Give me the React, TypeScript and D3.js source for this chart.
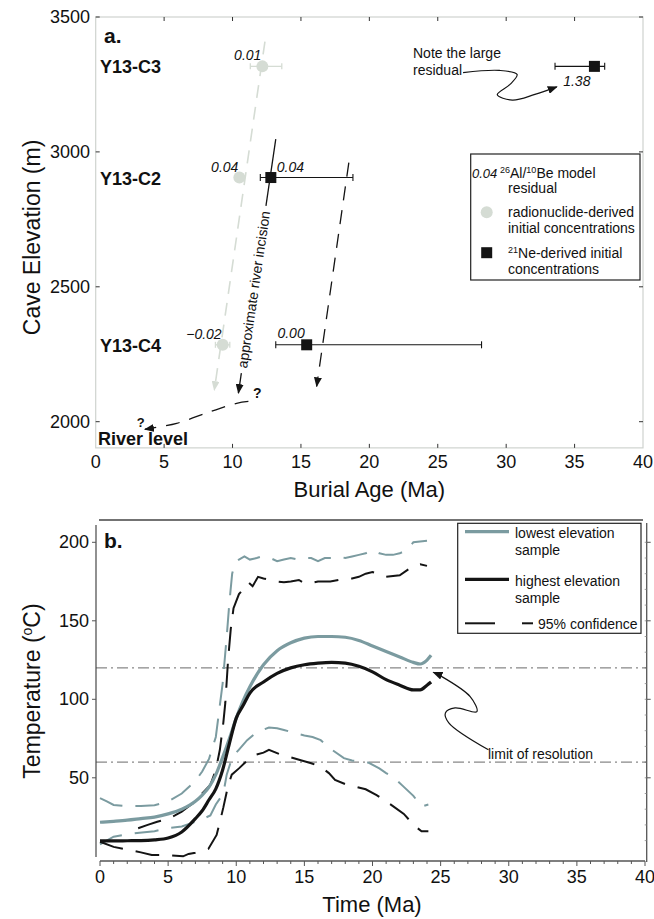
import React from "react";
import * as d3 from "d3";

const W = 654;
const H = 919;
const FONT = "'Liberation Sans', Arial, Helvetica, sans-serif";
const TEAL = "#7b9ba0";
const PALE = "#d5dcd4";
const INK = "#141414";

// ---- panel a: burial ages ----
const caves = ["Y13-C3", "Y13-C2", "Y13-C4"];
const caveElev = [3317, 2905, 2285];
const radAge = [12.18, 10.5, 9.28];
const radLo = [11.3, 10.25, 8.75];
const radHi = [13.6, 10.75, 9.8];
const radResidual = ["0.01", "0.04", "\u22120.02"];
const neAge = [36.45, 12.8, 15.42];
const neLo = [33.57, 12.03, 13.16];
const neHi = [37.2, 18.8, 28.2];
const neResidual = ["1.38", "0.04", "0.00"];
const ageTicks = [0, 5, 10, 15, 20, 25, 30, 35, 40];
const elevTicks = [2000, 2500, 3000, 3500];

// guide lines (age, elevation)
const paleGuide: [number, number][] = [[12.37, 3409], [8.67, 2117]];
const incision: [number, number][] = [[13.16, 3047], [10.43, 2106]];
const neGuide: [number, number][] = [[18.5, 2960], [16.15, 2131]];
const riverGuide: [number, number][] = [[11.16, 2075], [10.3, 2068], [8.36, 2037], [5.92, 1994], [3.6, 1972]];
const noteCurve: [number, number][] = [[26.85, 3294], [29.5, 3302], [30.8, 3287], [30.3, 3251], [29.35, 3212], [30.45, 3192], [32.1, 3213], [33.7, 3241]];

// ---- panel b: thermal histories ----
const timeTicks = [0, 5, 10, 15, 20, 25, 30, 35, 40];
const tempTicks = [50, 100, 150, 200];
const resolutionLimits = [60, 120];

const lowestT = [0, 1, 2, 3, 4, 5, 6, 7, 7.5, 8, 8.5, 9, 9.5, 10, 10.5, 11, 12, 13, 14, 15, 16, 17, 18, 19, 20, 21, 22, 23, 23.5, 24, 24.3];
const lowestV = [21.7, 22.3, 23, 24, 25, 27, 30, 35, 39, 44, 52, 63, 75, 88, 99, 108, 122, 131, 136, 139, 140, 140, 139.5, 137.5, 134, 130.5, 127, 123.5, 122.5, 125, 128];
const highestT = [0, 1, 2, 3, 4, 5, 6, 7, 7.5, 8, 8.5, 9, 9.5, 10, 10.5, 11, 12, 13, 14, 15, 16, 17, 18, 19, 20, 21, 22, 23, 23.5, 24, 24.3];
const highestV = [9.8, 9.8, 9.9, 10, 10.5, 11.7, 15.5, 24, 29, 36, 43, 55, 72, 88, 96, 104, 111, 116.5, 120, 122, 123, 123.5, 123, 121, 117.5, 112.5, 109, 106, 106, 109, 111];

const lowUpT = [0, 0.5, 1, 2, 3, 4, 5, 6, 6.5, 7, 7.5, 8, 8.5, 9, 9.3, 9.5, 9.7, 9.9, 10.2, 10.6, 11, 11.5, 11.9, 12.5, 13, 13.5, 14, 14.5, 15, 15.5, 16, 16.5, 17, 17.5, 18, 18.5, 19, 19.5, 20, 20.5, 21, 21.5, 22, 22.5, 23, 24];
const lowUpV = [37, 35, 32.7, 32, 32, 32.5, 35, 40, 44, 48, 54, 62, 76, 110, 140, 162, 180, 187, 189, 191, 189, 190, 191, 190, 188, 189, 190, 189, 190, 190, 188, 190, 190, 191, 190, 191, 192, 193, 195, 193, 192, 192, 193, 195, 200, 201];
const highUpT = [2.8, 3.5, 4.2, 4.9, 5.5, 6, 6.5, 7, 7.5, 8.1, 8.5, 8.8, 9.05, 9.2, 9.4, 9.6, 9.8, 10.2, 10.6, 10.9, 11.2, 11.6, 12, 12.5, 13, 13.5, 14, 14.6, 15, 15.5, 16, 16.9, 17.5, 18, 18.5, 19, 19.5, 20, 20.5, 21, 22, 23, 23.5, 24];
const highUpV = [17.9, 20, 22, 23.6, 26, 28.5, 31.7, 35, 40, 45.5, 55, 68, 85, 98, 125, 145, 158, 167, 171, 174.5, 172, 178, 177, 176, 175, 174.5, 175, 176, 174, 174, 175, 175, 176, 177, 177, 178, 180, 181, 180, 178, 179, 185, 186, 185];
const lowLoT = [0, 1, 2, 2.9, 4, 5, 6, 7, 7.6, 8.1, 8.5, 9.05, 9.3, 9.7, 10.2, 10.8, 11.5, 12.4, 13, 13.5, 14.3, 15, 15.6, 16.2, 17, 17.9, 18.5, 19, 19.7, 20.5, 21, 21.5, 22.2, 23, 23.6, 24.1];
const lowLoV = [7.6, 12.5, 14, 15, 16, 18, 19, 22, 24, 26, 33, 40, 52, 63, 68, 74, 79, 82, 81.5, 80.5, 78.5, 77, 76, 74, 68, 62.5, 61, 60.5, 59.7, 56, 53, 50.8, 45, 38.5, 31.7, 33];
const highLoT = [0, 1, 2.2, 3, 3.8, 5, 6.1, 6.5, 7, 7.5, 7.95, 8.56, 8.8, 9.05, 9.4, 9.67, 10.2, 10.8, 11.4, 12, 12.4, 13.3, 14, 14.8, 15.5, 16.2, 16.8, 17.25, 18, 18.7, 19.5, 20.3, 21, 21.5, 22.3, 23.1, 23.6, 24.1];
const highLoV = [9.3, 6, 4, 2.5, 0.8, 0.8, 0, 1.5, 2.3, 3.5, 4.7, 13.6, 22, 31, 45, 52, 56, 61, 64.6, 66, 67.8, 64.6, 63, 61, 59.3, 57, 53, 48.7, 46, 44.5, 42.7, 39, 35, 32, 27, 19.3, 16, 16];

const zip = (a: number[], b: number[]) => a.map((v, i) => [v, b[i]] as [number, number]);

export default function App() {
  const xA = d3.scaleLinear().domain([0, 40]).range([95.7, 643]);
  const yA = d3.scaleLinear().domain([2000, 3500]).range([421.7, 17]);
  const xB = d3.scaleLinear().domain([0, 40]).range([100, 645]);
  const yB = d3.scaleLinear().domain([0, 200]).range([856.3, 542.3]);

  const lineA = d3.line<[number, number]>().x((d) => xA(d[0])).y((d) => yA(d[1]));
  const smoothA = d3.line<[number, number]>().x((d) => xA(d[0])).y((d) => yA(d[1])).curve(d3.curveCatmullRom);
  const lineB = d3.line<[number, number]>().x((d) => xB(d[0])).y((d) => yB(d[1]));
  const smoothB = d3.line<[number, number]>().x((d) => xB(d[0])).y((d) => yB(d[1])).curve(d3.curveMonotoneX);
  const curlyB = d3.line<[number, number]>().x((d) => xB(d[0])).y((d) => yB(d[1])).curve(d3.curveCatmullRom);

  const aTop = yA(3500);
  const aBot = yA(1903);
  const aLeft = xA(0);
  const aRight = xA(40);

  // split the incision line to leave room for its label
  const incAt = (e: number): [number, number] => {
    const [[a1, e1], [a2, e2]] = incision;
    return [a1 + ((e - e1) * (a2 - a1)) / (e2 - e1), e];
  };
  const gapTop = 2800;
  const gapBot = 2180;
  const mid = incAt((gapTop + gapBot) / 2);
  const incAngle =
    (Math.atan2(yA(incision[0][1]) - yA(incision[1][1]), xA(incision[0][0]) - xA(incision[1][0])) * 180) / Math.PI;

  const neLabel = [
    { anchor: "end", dx: -4, dy: 20 },
    { anchor: "start", dx: 6, dy: -6 },
    { anchor: "end", dx: -2, dy: -7 },
  ];

  const noteLimit: [number, number][] = [[28.51, 67.8], [25.6, 85], [25.35, 91.3], [26.06, 94.5], [27.66, 92.1], [27.17, 101.7], [24.96, 115.1], [24.47, 117.2]];

  const tickC = "#333";
  const frameC = "#cfd3cf";

  return (
    <svg width={W} height={H} style={{ position: "absolute", left: 0, top: 0, background: "#fff" }} fontFamily={FONT}>
      <defs>
        <marker id="arrK" viewBox="0 0 10 8" refX="9" refY="4" markerWidth="10" markerHeight="8" markerUnits="userSpaceOnUse" orient="auto">
          <path d="M0,0 L10,4 L0,8 Z" fill={INK} />
        </marker>
        <marker id="arrP" viewBox="0 0 10 8" refX="9" refY="4" markerWidth="10" markerHeight="8" markerUnits="userSpaceOnUse" orient="auto">
          <path d="M0,0 L10,4 L0,8 Z" fill={PALE} />
        </marker>
      </defs>

      {/* ================= panel a ================= */}
      <rect x={aLeft} y={aTop} width={aRight - aLeft} height={aBot - aTop} fill="none" stroke={frameC} strokeWidth={1.2} />
      {ageTicks.slice(1, -1).map((t) => (
        <g key={"at" + t} stroke={tickC} strokeWidth={1}>
          <line x1={xA(t)} x2={xA(t)} y1={aTop} y2={aTop + 4} />
          <line x1={xA(t)} x2={xA(t)} y1={aBot} y2={aBot - 4} />
        </g>
      ))}
      {elevTicks.map((t) => (
        <g key={"et" + t} stroke={tickC} strokeWidth={1}>
          <line x1={aLeft} x2={aLeft + 4} y1={yA(t)} y2={yA(t)} />
          <line x1={aRight} x2={aRight - 4} y1={yA(t)} y2={yA(t)} />
        </g>
      ))}
      {ageTicks.map((t) => (
        <text key={"al" + t} x={xA(t)} y={468} fontSize={18} textAnchor="middle" fill="#111">{t}</text>
      ))}
      {elevTicks.map((t) => (
        <text key={"el" + t} x={90} y={yA(t) + 6} fontSize={18} textAnchor="end" fill="#111">{t}</text>
      ))}
      <text x={(aLeft + aRight) / 2} y={497} fontSize={22} textAnchor="middle" fill="#111">Burial Age (Ma)</text>
      <text transform={`translate(40,${(aTop + aBot) / 2 + 5}) rotate(-90)`} fontSize={23} textAnchor="middle" fill="#111">Cave Elevation (m)</text>

      <text x={104} y={43} fontSize={21} fontWeight="bold" fill="#111">a.</text>
      {caves.map((c, i) => (
        <text key={c} x={100} y={yA(caveElev[i]) + 7} fontSize={18} fontWeight="bold" fill="#111">{c}</text>
      ))}
      <text x={98} y={445} fontSize={18} fontWeight="bold" fill="#111">River level</text>

      {/* guide lines */}
      <path d={lineA(paleGuide) ?? ""} fill="none" stroke={PALE} strokeWidth={1.6} strokeDasharray="13,9" markerEnd="url(#arrP)" />
      <path d={lineA([incision[0], incAt(gapTop)]) ?? ""} fill="none" stroke={INK} strokeWidth={1.3} />
      <path d={lineA([incAt(gapBot), incision[1]]) ?? ""} fill="none" stroke={INK} strokeWidth={1.3} markerEnd="url(#arrK)" />
      <text transform={`translate(${xA(mid[0])},${yA(mid[1])}) rotate(${incAngle})`} fontSize={14} textAnchor="middle" dominantBaseline="central" fill="#111">approximate river incision</text>
      <path d={lineA(neGuide) ?? ""} fill="none" stroke={INK} strokeWidth={1.3} strokeDasharray="14,10" markerEnd="url(#arrK)" />
      <path d={smoothA(riverGuide) ?? ""} fill="none" stroke={INK} strokeWidth={1.3} strokeDasharray="14,10" markerEnd="url(#arrK)" />
      <text x={xA(11.5)} y={yA(2088)} fontSize={14} fontWeight="bold" fill="#111">?</text>
      <text x={xA(3.0)} y={yA(1982)} fontSize={13} fontWeight="bold" fill="#111">?</text>

      {/* radionuclide points */}
      {caves.map((c, i) => (
        <g key={"r" + c}>
          <g stroke={PALE} strokeWidth={1.3}>
            <line x1={xA(radLo[i])} x2={xA(radHi[i])} y1={yA(caveElev[i])} y2={yA(caveElev[i])} />
            <line x1={xA(radLo[i])} x2={xA(radLo[i])} y1={yA(caveElev[i]) - 3} y2={yA(caveElev[i]) + 3} />
            <line x1={xA(radHi[i])} x2={xA(radHi[i])} y1={yA(caveElev[i]) - 3} y2={yA(caveElev[i]) + 3} />
          </g>
          <circle cx={xA(radAge[i])} cy={yA(caveElev[i])} r={6} fill={PALE} />
          <text x={xA(radAge[i]) - 1} y={yA(caveElev[i]) - 6} fontSize={14} fontStyle="italic" textAnchor="end" fill="#111">{radResidual[i]}</text>
        </g>
      ))}
      {/* 21Ne points */}
      {caves.map((c, i) => (
        <g key={"n" + c}>
          <g stroke={INK} strokeWidth={1.1}>
            <line x1={xA(neLo[i])} x2={xA(neHi[i])} y1={yA(caveElev[i])} y2={yA(caveElev[i])} />
            <line x1={xA(neLo[i])} x2={xA(neLo[i])} y1={yA(caveElev[i]) - 3.5} y2={yA(caveElev[i]) + 3.5} />
            <line x1={xA(neHi[i])} x2={xA(neHi[i])} y1={yA(caveElev[i]) - 3.5} y2={yA(caveElev[i]) + 3.5} />
          </g>
          <rect x={xA(neAge[i]) - 5.5} y={yA(caveElev[i]) - 5.5} width={11} height={11} fill={INK} />
          <text x={xA(neAge[i]) + neLabel[i].dx} y={yA(caveElev[i]) + neLabel[i].dy} fontSize={14} fontStyle="italic" textAnchor={neLabel[i].anchor as any} fill="#111">{neResidual[i]}</text>
        </g>
      ))}

      {/* note */}
      <text x={413} y={58} fontSize={14} fill="#111">Note the large</text>
      <text x={413} y={75} fontSize={14} fill="#111">residual</text>
      <path d={smoothA(noteCurve) ?? ""} fill="none" stroke={INK} strokeWidth={1.2} markerEnd="url(#arrK)" />

      {/* legend a */}
      <rect x={470.7} y={154} width={169.3} height={126} fill="#fff" stroke="#222" strokeWidth={1.2} />
      <text x={472} y={178} fontSize={13} fontStyle="italic" fill="#111">0.04</text>
      <text x={500} y={178} fontSize={14} fill="#111">
        <tspan fontSize={9} dy={-5}>26</tspan>
        <tspan dy={5}>Al/</tspan>
        <tspan fontSize={9} dy={-5}>10</tspan>
        <tspan dy={5}>Be model</tspan>
      </text>
      <text x={508} y={193} fontSize={14} fill="#111">residual</text>
      <circle cx={486.7} cy={212.3} r={6} fill={PALE} />
      <text x={508} y={217} fontSize={14} fill="#111">radionuclide-derived</text>
      <text x={508} y={233} fontSize={14} fill="#111">initial concentrations</text>
      <rect x={481.2} y={247.2} width={11} height={11} fill={INK} />
      <text x={508} y={258} fontSize={14} fill="#111">
        <tspan fontSize={9} dy={-5}>21</tspan>
        <tspan dy={5}>Ne-derived initial</tspan>
      </text>
      <text x={508} y={274} fontSize={14} fill="#111">concentrations</text>

      {/* ================= panel b ================= */}
      <line x1={99} x2={643} y1={520} y2={520} stroke="#444" strokeWidth={1.3} />
      <line x1={96} x2={96} y1={525} y2={857} stroke="#555" strokeWidth={1.3} />
      <line x1={646.7} x2={646.7} y1={523} y2={862} stroke="#555" strokeWidth={1.3} />
      <line x1={xB(0)} x2={xB(40)} y1={861} y2={861} stroke="#555" strokeWidth={1.3} />
      {d3.range(0, 41).map((t) => (
        <line key={"mt" + t} x1={xB(t)} x2={xB(t)} y1={861} y2={t % 5 === 0 ? 866 : 864} stroke="#555" strokeWidth={1} />
      ))}
      {tempTicks.map((t) => (
        <g key={"tt" + t} stroke="#555" strokeWidth={1}>
          <line x1={92} x2={96} y1={yB(t)} y2={yB(t)} />
          <line x1={646.7} x2={650.7} y1={yB(t)} y2={yB(t)} />
        </g>
      ))}
      {d3.range(10, 210, 10).map((t) => (
        <line key={"rm" + t} x1={644.7} x2={646.7} y1={yB(t)} y2={yB(t)} stroke="#888" strokeWidth={0.8} />
      ))}
      {timeTicks.map((t) => (
        <text key={"tl" + t} x={xB(t)} y={883} fontSize={18} textAnchor="middle" fill="#111">{t}</text>
      ))}
      {tempTicks.map((t) => (
        <text key={"vl" + t} x={89} y={yB(t) + 6} fontSize={18} textAnchor="end" fill="#111">{t}</text>
      ))}
      <text x={372} y={912} fontSize={22} textAnchor="middle" fill="#111">Time (Ma)</text>
      <text transform={`translate(40,${(525 + 857) / 2}) rotate(-90)`} fontSize={23} textAnchor="middle" fill="#111">
        Temperature (<tspan fontSize={14} dy={-8}>o</tspan><tspan dy={8}>C)</tspan>
      </text>
      <text x={104} y={548} fontSize={21} fontWeight="bold" fill="#111">b.</text>

      {resolutionLimits.map((v) => (
        <line key={"lim" + v} x1={96} x2={646.7} y1={yB(v)} y2={yB(v)} stroke="#444" strokeWidth={0.8} strokeDasharray="11,4,2,4" />
      ))}

      <path d={lineB(zip(lowUpT, lowUpV)) ?? ""} fill="none" stroke={TEAL} strokeWidth={2} strokeDasharray="24,13" />
      <path d={lineB(zip(lowLoT, lowLoV)) ?? ""} fill="none" stroke={TEAL} strokeWidth={2} strokeDasharray="24,13" />
      <path d={lineB(zip(highUpT, highUpV)) ?? ""} fill="none" stroke={INK} strokeWidth={2} strokeDasharray="24,13" />
      <path d={lineB(zip(highLoT, highLoV)) ?? ""} fill="none" stroke={INK} strokeWidth={2} strokeDasharray="24,13" />
      <path d={smoothB(zip(lowestT, lowestV)) ?? ""} fill="none" stroke={TEAL} strokeWidth={3.2} />
      <path d={smoothB(zip(highestT, highestV)) ?? ""} fill="none" stroke={INK} strokeWidth={3.2} />

      {/* legend b */}
      <rect x={457.7} y={523.3} width={183.3} height={110} fill="#fff" stroke="#222" strokeWidth={1.2} />
      <line x1={465} x2={509} y1={531.7} y2={531.7} stroke={TEAL} strokeWidth={3.2} />
      <text x={515} y={538} fontSize={14} fill="#111">lowest elevation</text>
      <text x={515} y={555} fontSize={14} fill="#111">sample</text>
      <line x1={465} x2={509} y1={579.3} y2={579.3} stroke={INK} strokeWidth={3.2} />
      <text x={515} y={586} fontSize={14} fill="#111">highest elevation</text>
      <text x={515} y={603} fontSize={14} fill="#111">sample</text>
      <line x1={465} x2={495} y1={623.3} y2={623.3} stroke={INK} strokeWidth={2} />
      <line x1={522} x2={533} y1={623.3} y2={623.3} stroke={INK} strokeWidth={2} />
      <text x={538} y={629} fontSize={14} fill="#111">95% confidence</text>

      <text x={488} y={759} fontSize={14} fill="#111">limit of resolution</text>
      <path d={curlyB(noteLimit) ?? ""} fill="none" stroke={INK} strokeWidth={1.2} markerEnd="url(#arrK)" />
    </svg>
  );
}
